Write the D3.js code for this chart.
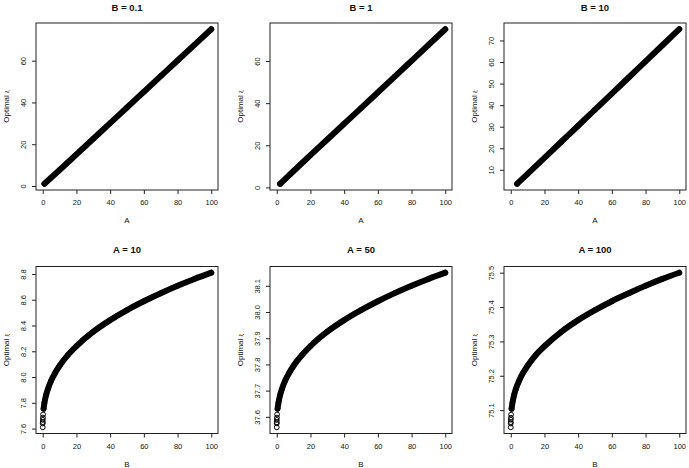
<!DOCTYPE html>
<html>
<head>
<meta charset="utf-8">
<script src="https://cdn.jsdelivr.net/npm/d3@7"></script>
<style>
  body { margin: 0; background: #fff; }
  text { font-family: "Liberation Sans", Arial, Helvetica, sans-serif; fill: #111; }
</style>
</head>
<body>
<svg width="689" height="468"></svg>
<script>
// top row: optimal xi against A, for a fixed B
var aB01 = [1, 10, 20, 30, 40, 50, 60, 70, 80, 90, 100];
var xiB01 = [1.04, 7.69, 15.15, 22.63, 30.11, 37.60, 45.09, 52.58, 60.07, 67.57, 75.08];
var aB1 = [2, 10, 20, 30, 40, 50, 60, 70, 80, 90, 100];
var xiB1 = [1.70, 7.80, 15.30, 22.77, 30.22, 37.65, 45.12, 52.60, 60.10, 67.60, 75.12];
var aB10 = [3.8, 10, 20, 30, 40, 50, 60, 70, 80, 90, 100];
var xiB10 = [3.50, 8.09, 15.55, 23.00, 30.45, 37.90, 45.35, 52.82, 60.28, 67.76, 75.23];

// bottom row: optimal xi against B, for a fixed A
var bVals = [0, 0.01, 0.02, 0.05, 0.1, 0.2, 0.5, 1, 2, 3, 5, 7.5, 10, 15, 20, 30, 40, 50, 60, 70, 80, 90, 100];
var xiA10 = [7.610, 7.640, 7.650, 7.668, 7.686, 7.710, 7.754, 7.800, 7.861, 7.905, 7.972, 8.036, 8.088, 8.172, 8.240, 8.352, 8.442, 8.520, 8.588, 8.650, 8.708, 8.761, 8.810];
var xiA50 = [37.560, 37.575, 37.579, 37.588, 37.597, 37.609, 37.631, 37.653, 37.683, 37.705, 37.738, 37.769, 37.795, 37.836, 37.870, 37.925, 37.969, 38.007, 38.041, 38.072, 38.100, 38.126, 38.150];
var xiA100 = [75.050, 75.061, 75.065, 75.072, 75.078, 75.087, 75.104, 75.121, 75.144, 75.161, 75.186, 75.210, 75.229, 75.261, 75.286, 75.328, 75.362, 75.391, 75.417, 75.440, 75.462, 75.482, 75.500];

var xTicks = [0, 20, 40, 60, 80, 100];
var yTicks1 = [0, 20, 40, 60];
var yTicks3 = [10, 20, 30, 40, 50, 60, 70];
var yTicksA10 = [7.6, 7.8, 8.0, 8.2, 8.4, 8.6, 8.8];
var yTicksA50 = [37.6, 37.7, 37.8, 37.9, 38.0, 38.1];
var yTicksA100 = [75.1, 75.2, 75.3, 75.4, 75.5];

var panels = [
  { title: "B = 0.1", xlab: "A", xs: aB01, ys: xiB01, yt: yTicks1, fmt: d3.format("d"), col: 0, row: 0 },
  { title: "B = 1", xlab: "A", xs: aB1, ys: xiB1, yt: yTicks1, fmt: d3.format("d"), col: 1, row: 0 },
  { title: "B = 10", xlab: "A", xs: aB10, ys: xiB10, yt: yTicks3, fmt: d3.format("d"), col: 2, row: 0 },
  { title: "A = 10", xlab: "B", xs: bVals, ys: xiA10, yt: yTicksA10, fmt: d3.format(".1f"), col: 0, row: 1 },
  { title: "A = 50", xlab: "B", xs: bVals, ys: xiA50, yt: yTicksA50, fmt: d3.format(".1f"), col: 1, row: 1 },
  { title: "A = 100", xlab: "B", xs: bVals, ys: xiA100, yt: yTicksA100, fmt: d3.format(".1f"), col: 2, row: 1 }
];

var colLeft = [36, 270, 504];
var rowTop = [23, 266.5];
var rowTitleY = [11, 252.5];
var w = 182, h = 167;

var svg = d3.select("svg");

function pad(ext) {
  var d = (ext[1] - ext[0]) * 0.04;
  return [ext[0] - d, ext[1] + d];
}

panels.forEach(function(p) {
  var left = colLeft[p.col], top = rowTop[p.row];
  var g = svg.append("g").attr("transform", "translate(" + left + "," + top + ")");

  var x = d3.scaleLinear().domain(pad([0, 100])).range([0, w]);
  var y = d3.scaleLinear().domain(pad(d3.extent(p.ys))).range([h, 0]);

  var pts = p.xs.map(function(d, i) { return [d, p.ys[i]]; });

  // dense band of points
  var line = d3.line()
    .x(function(d) { return x(d[0]); })
    .y(function(d) { return y(d[1]); })
    .curve(d3.curveMonotoneX);
  g.append("path")
    .datum(pts.filter(function(d) { return p.row == 0 || d[0] >= 0.5; }))
    .attr("d", line)
    .attr("fill", "none")
    .attr("stroke", "#000")
    .attr("stroke-width", 6)
    .attr("stroke-linecap", "round");

  g.selectAll("circle")
    .data(pts)
    .enter()
    .append("circle")
    .attr("cx", function(d) { return x(d[0]); })
    .attr("cy", function(d) { return y(d[1]); })
    .attr("r", 2.4)
    .attr("fill", "none")
    .attr("stroke", "#000")
    .attr("stroke-width", 1);

  var xa = g.append("g")
    .attr("transform", "translate(0," + h + ")")
    .call(d3.axisBottom(x).tickValues(xTicks).tickSize(4).tickPadding(6).tickFormat(d3.format("d")));
  var ya = g.append("g")
    .call(d3.axisLeft(y).tickValues(p.yt).tickSize(4).tickFormat(p.fmt));
  [xa, ya].forEach(function(a) {
    a.select(".domain").remove();
    a.selectAll("line").attr("stroke", "#222");
    a.selectAll("text").style("font-size", "7.5px").attr("fill", "#111");
  });
  ya.selectAll("text")
    .attr("transform", "rotate(-90)")
    .attr("x", 0)
    .attr("y", -10)
    .attr("dy", 0)
    .attr("text-anchor", "middle");

  g.append("rect")
    .attr("width", w)
    .attr("height", h)
    .attr("fill", "none")
    .attr("stroke", "#222")
    .attr("stroke-width", 1);

  svg.append("text")
    .attr("x", left + w / 2)
    .attr("y", rowTitleY[p.row])
    .attr("text-anchor", "middle")
    .style("font-size", "9.5px")
    .style("font-weight", "bold")
    .text(p.title);

  g.append("text")
    .attr("x", w / 2)
    .attr("y", h + 33)
    .attr("text-anchor", "middle")
    .style("font-size", "8px")
    .text(p.xlab);

  var yl = g.append("text")
    .attr("transform", "translate(-27," + (h / 2) + ") rotate(-90)")
    .attr("text-anchor", "middle")
    .style("font-size", "8px");
  yl.append("tspan").text("Optimal ");
  yl.append("tspan").style("font-size", "6px").text("ξ");
});
</script>
</body>
</html>
